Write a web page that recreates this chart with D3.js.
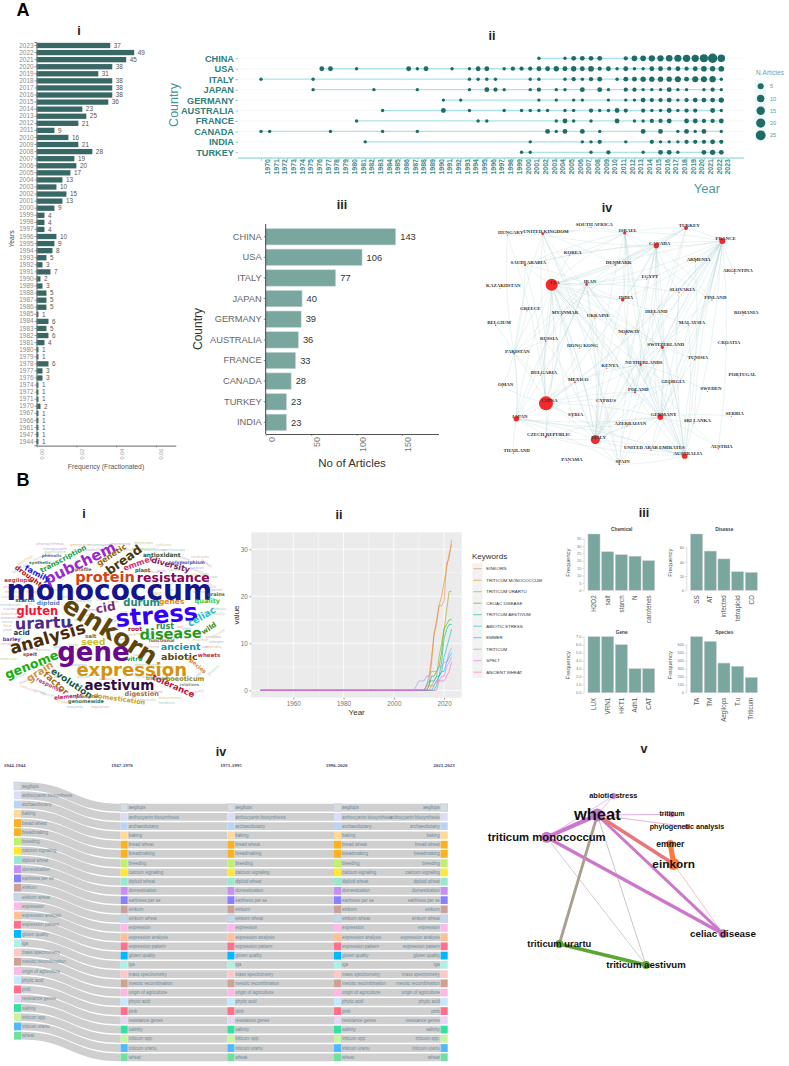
<!DOCTYPE html>
<html><head><meta charset="utf-8">
<script src="https://cdn.jsdelivr.net/npm/d3@7"></script>
<style>html,body{margin:0;padding:0;background:#fff}svg{display:block}</style>
</head><body><svg id="fig" width="789" height="1066" viewBox="0 0 789 1066"></svg>
<script>
// ---------- A-i annual production
const prodYears=[2023,2022,2021,2020,2019,2018,2017,2016,2015,2014,2013,2012,2011,2010,2009,2008,2007,2006,2005,2004,2003,2002,2001,2000,1999,1998,1997,1996,1995,1994,1993,1992,1991,1990,1989,1988,1987,1986,1985,1984,1983,1982,1981,1980,1979,1978,1977,1976,1974,1972,1971,1970,1967,1966,1961,1947,1944];
const prodCounts=[37,49,45,38,31,38,38,38,36,23,25,21,9,16,21,28,19,20,17,13,10,15,13,9,4,4,4,10,9,8,5,3,7,2,3,5,5,5,1,6,5,6,4,1,1,6,3,3,1,1,1,2,1,1,1,1,1];
const freqTicks=[0,0.02,0.04,0.06];
const totalArticles=998;
// ---------- A-ii country production over time [year, articles]
const chinaArticles=[[2002,1],[2005,1],[2006,3],[2007,3],[2008,3],[2009,3],[2012,2],[2013,5],[2014,5],[2015,7],[2016,7],[2017,8],[2018,10],[2019,11],[2020,11],[2021,15],[2022,25],[2023,12]];
const usaArticles=[[1977,3],[1978,3],[1981,1],[1987,3],[1988,1],[1989,3],[1992,1],[1994,1],[1995,3],[1996,3],[1998,1],[1999,2],[2000,2],[2001,2],[2002,3],[2003,3],[2004,4],[2005,3],[2006,4],[2007,3],[2008,5],[2009,2],[2010,3],[2011,1],[2012,3],[2013,1],[2014,1],[2015,3],[2016,3],[2017,2],[2018,3],[2019,2],[2020,3],[2021,5],[2022,4],[2023,5]];
const italyArticles=[[1970,1],[1976,1],[1994,1],[1995,1],[1996,1],[1997,1],[2001,1],[2002,1],[2005,1],[2006,2],[2007,1],[2008,2],[2009,3],[2011,1],[2012,3],[2013,3],[2014,4],[2015,4],[2016,4],[2017,4],[2018,6],[2019,3],[2020,6],[2021,6],[2022,7],[2023,1]];
const japanArticles=[[1976,1],[1983,1],[1988,1],[1994,1],[1996,3],[1997,2],[1998,1],[2001,1],[2002,2],[2004,1],[2005,1],[2007,3],[2009,3],[2010,1],[2012,2],[2013,2],[2014,1],[2015,1],[2016,1],[2017,3],[2018,1],[2019,1],[2021,1],[2022,2],[2023,1]];
const germanyArticles=[[1991,1],[1993,1],[2002,1],[2004,1],[2006,1],[2007,1],[2010,1],[2012,1],[2013,1],[2014,3],[2015,2],[2016,2],[2017,3],[2018,1],[2019,2],[2020,3],[2021,3],[2022,3],[2023,4]];
const australiaArticles=[[1984,1],[1991,3],[1994,1],[1998,1],[2000,1],[2001,1],[2002,1],[2003,1],[2005,1],[2006,1],[2008,2],[2009,1],[2010,1],[2011,3],[2012,2],[2014,2],[2015,1],[2016,1],[2017,3],[2018,1],[2019,2],[2020,2],[2022,3],[2023,1]];
const franceArticles=[[1981,1],[1995,1],[1996,1],[2004,1],[2005,3],[2006,1],[2008,1],[2011,3],[2013,1],[2014,1],[2015,2],[2016,2],[2017,3],[2019,3],[2020,3],[2021,2],[2022,2],[2023,3]];
const canadaArticles=[[1970,1],[1971,1],[1978,1],[1984,1],[1988,1],[2003,3],[2004,1],[2005,3],[2007,3],[2009,1],[2014,3],[2016,3],[2018,1],[2019,3],[2020,1],[2021,3],[2023,1]];
const indiaArticles=[[1982,1],[2001,1],[2007,1],[2008,1],[2009,2],[2012,1],[2015,2],[2016,1],[2017,1],[2018,1],[2019,2],[2020,2],[2021,2],[2022,3],[2023,2]];
const turkeyArticles=[[2000,1],[2001,1],[2008,1],[2010,2],[2014,1],[2016,3],[2017,3],[2018,1],[2021,3],[2022,4],[2023,3]];
const timelineCountries=["CHINA","USA","ITALY","JAPAN","GERMANY","AUSTRALIA","FRANCE","CANADA","INDIA","TURKEY"];
const timelineSeries=[chinaArticles,usaArticles,italyArticles,japanArticles,germanyArticles,australiaArticles,franceArticles,canadaArticles,indiaArticles,turkeyArticles];
const sizeLegend=[5,10,15,20,25];
// ---------- A-iii
const topCountries=["CHINA","USA","ITALY","JAPAN","GERMANY","AUSTRALIA","FRANCE","CANADA","TURKEY","INDIA"];
const topCounts=[143,106,77,40,39,36,33,28,23,23];
// ---------- A-iv country network (layout)
const countryNodes=[["HUNGARY",112,90,1],["UNITED KINGDOM",218,86,5],["SOUTH AFRICA",363,67,1],["ISRAEL",464,84,7],["TURKEY",648,69,12],["CANADA",559,122,20],["FRANCE",757,108,26],["KOREA",298,150,1],["SAUDI ARABIA",165,180,3],["DENMARK",436,180,2],["ARMENIA",676,170,1],["ARGENTINA",794,205,1],["USA",245,239,106],["IRAN",350,238,5],["EGYPT",530,222,1],["KAZAKHSTAN",90,250,.7],["SLOVAKIA",627,262,1],["INDIA",458,284,9],["FINLAND",726,285,1],["GREECE",171,317,.8],["MYANMAR",275,329,1],["UKRAINE",375,339,1],["IRELAND",549,327,1],["ROMANIA",819,330,.8],["BELGIUM",77,361,1.5],["MALAYSIA",656,360,1],["NORWAY",467,387,1.5],["RUSSIA",227,408,1.5],["HONG KONG",328,429,1],["SWITZERLAND",577,427,7],["CROATIA",767,419,.8],["PAKISTAN",132,446,1.5],["TUNISIA",674,464,1.5],["NETHERLANDS",512,479,3],["KENYA",410,490,.8],["BULGARIA",212,510,1],["PORTUGAL",807,516,.7],["MEXICO",315,532,2],["GEORGIA",599,536,1],["OMAN",97,546,.8],["SWEDEN",713,559,.8],["POLAND",495,562,3],["CHINA",228,595,143],["CYPRUS",398,593,.8],["SYRIA",307,636,.8],["JAPAN",139,641,22],["GERMANY",571,636,24],["SERBIA",784,634,.8],["SRI LANKA",672,654,.8],["AZERBAIJAN",471,663,.8],["CZECH REPUBLIC",227,695,3],["ITALY",376,704,60],["THAILAND",130,745,.8],["UNITED ARAB EMIRATES",543,736,1],["AUSTRIA",745,731,1],["AUSTRALIA",644,753,24],["PANAMA",296,772,.7],["SPAIN",448,778,2]];
const usaLinks=["UNITED KINGDOM","KOREA","SAUDI ARABIA","DENMARK","IRAN","EGYPT","ISRAEL","CANADA","FRANCE","INDIA","MYANMAR","UKRAINE","RUSSIA","PAKISTAN","BULGARIA","CHINA","MEXICO","JAPAN","ITALY","GERMANY","AUSTRALIA","NETHERLANDS","SWITZERLAND","TURKEY","POLAND","SPAIN","SLOVAKIA","NORWAY","MALAYSIA","TUNISIA","CZECH REPUBLIC","SYRIA","KENYA"];
const chinaLinks=["JAPAN","PAKISTAN","RUSSIA","MYANMAR","GERMANY","NETHERLANDS","ITALY","AUSTRALIA","CZECH REPUBLIC","CANADA","IRAN","FRANCE","KENYA","GEORGIA","POLAND","UKRAINE","MEXICO","BULGARIA","OMAN","SAUDI ARABIA","SYRIA","HUNGARY"];
const franceLinks=["CANADA","ISRAEL","EGYPT","SLOVAKIA","INDIA","IRELAND","NORWAY","SWITZERLAND","GERMANY","ITALY","AUSTRALIA","NETHERLANDS","MALAYSIA","SPAIN","POLAND","SRI LANKA","AUSTRIA","ARGENTINA","IRAN","SAUDI ARABIA","UNITED ARAB EMIRATES","TURKEY","FINLAND","TUNISIA","GEORGIA","AZERBAIJAN","MEXICO"];
const canadaLinks=["ISRAEL","TURKEY","IRAN","DENMARK","IRELAND","SWITZERLAND","GERMANY","AUSTRALIA","ITALY","NETHERLANDS","FINLAND","SPAIN","INDIA","SLOVAKIA","UNITED KINGDOM","SAUDI ARABIA","POLAND"];
const italyLinks=["GERMANY","JAPAN","CZECH REPUBLIC","SPAIN","AZERBAIJAN","NETHERLANDS","SWITZERLAND","IRAN","INDIA","RUSSIA","MEXICO","UKRAINE","AUSTRALIA","TURKEY","GEORGIA","UNITED ARAB EMIRATES","ISRAEL","MYANMAR","NORWAY","CYPRUS","POLAND"];
const germanyLinks=["AUSTRALIA","SPAIN","SERBIA","SRI LANKA","NETHERLANDS","SWITZERLAND","ISRAEL","IRAN","JAPAN","UNITED ARAB EMIRATES","AUSTRIA","CZECH REPUBLIC","TUNISIA","POLAND","AZERBAIJAN","MALAYSIA","IRELAND","SLOVAKIA","UNITED KINGDOM"];
const japanLinks=["SPAIN","AZERBAIJAN","CZECH REPUBLIC","PAKISTAN","MEXICO","THAILAND","AUSTRALIA","RUSSIA","MYANMAR","IRAN"];
const iranLinks=["RUSSIA","PAKISTAN","NETHERLANDS","SWITZERLAND","AUSTRALIA","SPAIN","EGYPT","SAUDI ARABIA","TURKEY","INDIA","BULGARIA","MYANMAR"];
const ukLinks=["HUNGARY","RUSSIA","AUSTRALIA","PAKISTAN","ISRAEL","SOUTH AFRICA","DENMARK","POLAND","SPAIN"];
const israelLinks=["TURKEY","SOUTH AFRICA","INDIA","AUSTRALIA","NORWAY","POLAND","KOREA","SAUDI ARABIA","NETHERLANDS","FINLAND"];
const pakistanLinks=["HUNGARY","SAUDI ARABIA","RUSSIA","BULGARIA","OMAN","GREECE","JAPAN","BELGIUM","TURKEY"];
const netherlandsLinks=["KENYA","MEXICO","POLAND","GEORGIA","AUSTRALIA","SPAIN","SWEDEN","AUSTRIA","MALAYSIA","TURKEY","FINLAND"];
const australiaLinks=["SPAIN","SWITZERLAND","SLOVAKIA","MALAYSIA","POLAND","UNITED ARAB EMIRATES","CZECH REPUBLIC","IRELAND","TUNISIA","ARMENIA"];
const networkLinkLists=[["USA",usaLinks],["CHINA",chinaLinks],["FRANCE",franceLinks],["CANADA",canadaLinks],["ITALY",italyLinks],["GERMANY",germanyLinks],["JAPAN",japanLinks],["IRAN",iranLinks],["UNITED KINGDOM",ukLinks],["ISRAEL",israelLinks],["PAKISTAN",pakistanLinks],["NETHERLANDS",netherlandsLinks],["AUSTRALIA",australiaLinks]];
// ---------- B-i word cloud: word, size, x, y, rotation, colour (layout)
const cloudWords=[["monococcum",28,328,272,0,"#14148c"],["einkorn",25,330,393,32,"#5e4508"],["gene",26,280,458,0,"#6a0a8a"],["stress",24,470,347,-5,"#3300f5"],["expression",18,395,510,0,"#d4920f"],["analysis",17,143,415,-16,"#4a2c0a"],["disease",14.5,512,402,-2,"#1f9c1f"],["urartu",16,130,370,-2,"#4b2a8c"],["protein",14.5,315,232,0,"#d2450f"],["resistance",12.5,520,233,0,"#8b0a50"],["pubchem",15,240,190,-26,"#9c27c8"],["bread",12.5,372,180,-36,"#4a3a10"],["gluten",11.5,112,335,0,"#ff1030"],["cid",12,317,323,-10,"#7a2a7a"],["durum",10,425,307,0,"#1a8a7a"],["genes",7.5,515,306,0,"#e08a10"],["quality",6.5,622,304,0,"#3cc83c"],["celiac",9.5,605,350,-30,"#20c0c8"],["ancient",9.5,542,441,0,"#2090a8"],["abiotic",9.5,538,472,0,"#5a4a10"],["rust",8,495,378,0,"#2f8f4f"],["root",6,405,386,0,"#b02020"],["seed",9,280,425,0,"#c8c020"],["genome",12.5,95,495,-22,"#10b010"],["grain",10,120,515,-32,"#c89840"],["factor",9,168,550,42,"#a87010"],["evolution",9,215,550,34,"#1a5a3a"],["aestivum",13.5,358,557,0,"#300a40"],["tolerance",8.5,520,558,24,"#c01040"],["boeoticum",6.5,555,538,0,"#8a8a20"],["digestion",6.5,425,583,0,"#a07050"],["domestication",6.5,358,597,8,"#c8a020"],["vitro",6,403,478,0,"#20a060"],["family",8,112,222,28,"#1a1ae0"],["transcription",7,190,177,-28,"#10a040"],["genetic",8,335,165,-33,"#8a6a10"],["drought",7,85,228,36,"#b02020"],["emmer",8,415,190,-20,"#d03070"],["diversity",8,512,195,15,"#7a2060"],["antioxidant",5.8,485,165,0,"#2a5a3a"],["plant",5.2,428,212,0,"#4a4a2a"],["wild",7,627,385,-35,"#3a8a20"],["acid",7,65,398,0,"#1a3a4a"],["barley",5,35,417,0,"#3a3aa0"],["aegilops",5.5,52,240,0,"#c04040"],["diploid",6,145,308,0,"#6080c0"],["starch",5.5,75,302,0,"#3a5a3a"],["wheats",5.5,627,465,0,"#c03030"],["spelt",5,90,462,0,"#7a4a3a"],["species",5.5,590,495,40,"#e08020"],["response",5.5,148,555,25,"#c04080"],["elements",5.5,205,590,-5,"#c01060"],["genomewide",5,258,605,0,"#3a6a4a"],["polymorphism",4.5,560,187,0,"#5050a0"],["grains",5,648,283,0,"#5a6a3a"],["salt",5.5,272,408,0,"#5a7a5a"],["functional",4.5,485,423,0,"#a05030"],["promoter",4.5,262,590,0,"#907030"],["triticeae",4.5,470,536,0,"#508060"],["profile",4.5,250,208,0,"#806040"],["synthetic",4.2,120,188,0,"#507050"],["relatives",4,568,553,0,"#8090a0"],["phenolic",4.2,155,168,0,"#5070b0"]];
const cloudFiller=[["transposable",165,145,0],["quantitative",165,155,0],["germplasm",240,135,0],["chromosome",300,135,0],["sequencing",360,130,0],["genotypes",430,128,0],["cultivars",490,135,0],["spectroscopy",520,150,0],["duration",590,202,0],["landraces",600,170,0],["microsatellite",270,150,0],["nutritional",125,170,-20],["seedlings",75,180,-30],["tetraploid",60,205,-30],["phylogenetic",45,260,0],["hexaploid",40,275,0],["nucleotide",32,290,0],["metabolism",30,315,0],["nucleolar",35,327,0],["bioactive",28,340,0],["carotenoids",28,352,0],["amino",22,365,0],["flour",22,378,0],["yield",22,390,0],["nitrogen",25,430,0],["molecular",25,475,0],["pathway",40,510,-20],["pathogen",55,530,-25],["mapping",80,540,-25],["molecules",85,565,20],["cereals",120,575,20],["agriculture",150,585,15],["storage",190,605,5],["enzymes",225,620,0],["regulation",300,620,0],["sensitivity",440,598,0],["biosynthesis",510,592,0],["hordeum",500,608,0],["oxidative",560,575,25],["farming",590,575,-15],["gliadin",600,520,-40],["glutenin",640,510,-40],["peptides",640,440,0],["allergen",648,425,0],["analyses",640,410,0],["nutrient",655,400,-30],["toxicity",655,340,0],["biomass",655,325,0],["kernel",650,270,0],["soil",640,260,0],["marker",620,245,40],["crop",640,230,0],["silencing",595,225,0],["phenotype",600,215,20],["growth",620,190,40],["temperature",430,145,0],["epigenetic",380,150,0],["transcriptome",460,150,0],["microbiome",540,170,20],["protease",455,215,0],["lectin",485,212,0],["cadmium",530,210,0],["heat",570,260,0],["salinity",600,275,0],["rna",510,270,0],["dna",470,285,0],["traits",200,290,0],["flowering",250,303,0],["zinc",180,290,0],["iron",300,300,0],["cell",350,350,0],["rice",370,335,0],["maize",340,305,0],["proteins",275,330,0],["food",265,345,0],["fiber",215,345,0],["dough",240,358,0],["allele",345,362,0],["loci",355,380,0],["grainyield",380,405,0],["tissue",360,415,0],["assay",220,433,0],["sugar",240,445,0],["lipid",170,440,0],["breeding",90,445,0],["markers",130,450,0],["archaeology",490,500,0],["rye",590,445,0],["oat",615,440,0],["cultivated",450,440,0],["nuclear",420,465,0],["domesticated",440,495,0],["ethylene",600,420,0],["stem",560,385,0],["leaf",540,380,0],["metabolomic",440,400,0],["immune",380,445,0],["cytokinin",430,530,0],["hybrid",470,575,0],["ancestor",320,535,0],["barley",180,530,0],["glycine",250,530,0],["pasta",470,278,0],["wheatgrass",230,495,0],["drought",100,275,0],["mutant",180,270,0],["ptc",90,312,0],["lines",200,320,0],["photosynthesis",150,130,0]];
const cloudFillerColors=["#c3aede","#a9d4b5","#dfc092","#9cc3e0","#e2a8bd","#b9d596","#d6cc92","#a4cfcf","#cfa8d8","#e8b9a6"];
// ---------- B-ii keyword growth
const keywordNames=["EINKORN","TRITICUM MONOCOCCUM","TRITICUM URARTU","CELIAC DISEASE","TRITICUM AESTIVUM","ABIOTIC STRESS","EMMER","TRITICUM","SPELT","ANCIENT WHEAT"];
const keywordYears=[1947,2008,2009,2010,2011,2012,2013,2014,2015,2016,2017,2018,2019,2020,2021,2022,2023];
const kwEinkorn=[0,0,0,0,0,0,1,3,7,12,14,18,18,19,27,28,32];
const kwMonococcum=[0,0,0,0,0,0,0,1,6,12,15,18,20,23,26,29,31];
const kwUrartu=[0,0,0,0,0,0,0,0,1,2,3,7,10,13,17,21,21];
const kwCeliac=[0,0,0,0,0,0,0,1,3,3,4,5,8,13,14,15,15];
const kwAestivum=[0,0,0,0,0,0,0,0,0,0,1,3,6,11,13,14,14];
const kwAbiotic=[0,0,0,0,0,0,0,0,0,1,2,3,4,7,9,11,13];
const kwEmmer=[0,0,0,0,0,0,1,2,2,2,3,3,4,4,6,7,8];
const kwTriticum=[0,0,1,2,2,2,3,3,4,4,4,5,5,6,6,8,9];
const kwSpelt=[0,0,0,0,0,0,1,1,1,1,2,2,3,3,5,6,7];
const kwAncient=[0,0,0,0,0,0,0,0,0,0,0,2,2,2,3,4,6];
const keywordSeries=[kwEinkorn,kwMonococcum,kwUrartu,kwCeliac,kwAestivum,kwAbiotic,kwEmmer,kwTriticum,kwSpelt,kwAncient];
const keywordColors=["#F8766D","#D89000","#A3A500","#39B600","#00BF7D","#00BFC4","#00B0F6","#9590FF","#E76BF3","#FF62BC"];
// ---------- B-iii entity bars
const chemicalNames=["H2O2","salt","starch","N","carotenes"],chemicalCounts=[38,26,24,23,20],chemicalTicks=[0,5,10,15,20,25,30,35];
const diseaseNames=["SS","AT","infected","tetraploid","CD"],diseaseCounts=[79,55,44,26,25],diseaseTicks=[0,20,40,60];
const geneNames=["LUX","VRN1","HKT1","Adh1","CAT"],geneCounts=[7,7,6,3,3],geneTicks=[0,1,2,3,4,5,6,7];
const speciesNames=["TA","TM","Aegilops","T.u","Triticum"],speciesCounts=[700,640,370,330,190],speciesTicks=[0,100,200,300,400,500,600];
// ---------- B-iv thematic evolution
const periods=["1944-1944","1947-1970","1971-1995","1996-2020","2021-2023"];
const themes=["aegilops","anthocyanin biosynthesis","archaeobotany","baking","bread wheat","breadmaking","breeding","calcium signaling","diploid wheat","domestication","earliness per se","einkorn","einkorn wheat","expression","expression analysis","expression pattern","gluten quality","iga","mass spectrometry","meiotic recombination","origin of agriculture","phytic acid","pinb","resistance genes","salinity","triticum spp.","triticum urartu","wheat"];
const themeColors=["#d8dcdf","#dcdcf8","#bcd4f4","#ffd99a","#ffb020","#ffb020","#c0f070","#ffe830","#98e8d0","#c490f8","#8a80ff","#cca098","#c8d6e4","#ffb8e8","#ffc098","#ff7090","#00b8ff","#b0f0e4","#ffc8c8","#d0a090","#ffb8e4","#c4e8ff","#ff7088","#e8d4f4","#38e0a0","#c8f4a0","#50b8ff","#70e0a0"];
// ---------- B-v co-occurrence network (layout)
const coNodes=[["wheat",382,135,6.5,"#c878c8",16.5],["abiotic stress",430,78,3,"#c878c8",7.5],["triticum",606,133,3,"#c878c8",6.8],["phylogenetic analysis",651,170,2.5,"#c878c8",7.2],["triticum monococcum",230,202,5.5,"#c878c8",11.3],["emmer",601,222,4,"#ff7a3a",8.6],["einkorn",611,282,6,"#ff7a3a",11.8],["celiac disease",759,491,4.5,"#c878c8",9.8],["triticum urartu",268,522,4,"#5aa832",9.4],["triticum aestivum",528,585,4,"#5aa832",9.6]];
const coEdges=[["wheat","triticum monococcum",4.2,"#cc77cc"],["wheat","celiac disease",3,"#cc77cc"],["triticum monococcum","celiac disease",3.4,"#cc77cc"],["wheat","einkorn",3.6,"#e87878"],["emmer","einkorn",5,"#ff7a3a"],["einkorn","celiac disease",.5,"#f08080"],["wheat","triticum urartu",2.8,"#a89f8f"],["triticum urartu","triticum aestivum",3.6,"#5aa832"],["triticum monococcum","triticum aestivum",.5,"#a89f8f"],["wheat","triticum aestivum",.6,"#a89f8f"],["wheat","abiotic stress",.6,"#dd99dd"],["triticum monococcum","abiotic stress",.6,"#dd99dd"],["wheat","triticum",.8,"#dd99dd"],["wheat","phylogenetic analysis",.8,"#dd99dd"]];

// ---------------------------------------------------------------
const svg=d3.select("#fig");
const SANS="'Liberation Sans',Arial,sans-serif",SERIF="'Liberation Serif',serif";
function label(t,x,y,o={}){
  const e=svg.append("text").text(t).attr("x",x).attr("y",y).attr("font-family",o.family||SANS)
    .attr("font-size",o.size||10).attr("fill",o.fill||"#000").attr("text-anchor",o.anchor||"middle")
    .attr("font-weight",o.weight||"normal").attr("dy",o.dy===undefined?".35em":o.dy);
  if(o.rot!==undefined)e.attr("transform",`rotate(${o.rot},${x},${y})`);
  return e;
}
[["A",23,10],["B",23,480]].forEach(d=>label(d[0],d[1],d[2],{size:18,weight:"bold"}));
[["i",79,31],["ii",492,36],["iii",342,205],["iv",607,208],["i",84,514],["ii",339,515],["iii",644,513],["iv",221,752],["v",644,749]]
  .forEach(d=>label(d[0],d[1],d[2],{size:12.5,weight:"bold",fill:"#222"}));

// A-i ------------------------------------------------------------
(function(){
  const y=d3.scaleBand().domain(prodYears).range([41.96,445.2]).paddingInner(.25).paddingOuter(.125);
  const x=d3.scaleLinear().domain([0,.07]).range([36.5,175.8]);
  const g=svg.append("g");
  g.selectAll("rect").data(prodYears).join("rect").attr("x",x(0)).attr("y",d=>y(d)).attr("height",y.bandwidth())
    .attr("width",(d,i)=>x(prodCounts[i]/totalArticles)-x(0)).attr("fill","#386866");
  g.selectAll("text.v").data(prodYears).join("text").attr("class","v").text((d,i)=>prodCounts[i])
    .attr("x",(d,i)=>x(prodCounts[i]/totalArticles)+3.5).attr("y",d=>y(d)+y.bandwidth()/2).attr("dy",".35em")
    .attr("font-family",SANS).attr("font-size",6.4).attr("fill","#555");
  const ax=svg.append("g").attr("transform","translate(36.5,0)").call(d3.axisLeft(y).tickSize(2).tickPadding(1));
  ax.selectAll("text").attr("font-family",SANS).attr("font-size",6.4).attr("fill","#8a8a8a");
  ax.selectAll("line").attr("stroke","#555").attr("stroke-width",.6);
  ax.select(".domain").attr("stroke","#777").attr("stroke-width",1);
  const bx=svg.append("g").attr("transform","translate(0,445.6)").call(d3.axisBottom(x).tickValues(freqTicks).tickFormat(d3.format(".2f")).tickSize(2).tickSizeOuter(0));
  bx.selectAll("text").attr("font-family",SANS).attr("font-size",5.6).attr("fill","#999").attr("text-anchor","end").attr("dx",0).attr("dy",0)
    .attr("transform","translate(2,3) rotate(-90)");
  bx.selectAll("line").attr("stroke","#777").attr("stroke-width",.6);
  bx.select(".domain").attr("stroke","#666").attr("stroke-width",1);
  label("Frequency (Fractionated)",106,467,{size:6.8,fill:"#555"});
  label("Years",12,239,{size:6.8,fill:"#444",rot:-90});
})();

// A-ii -----------------------------------------------------------
(function(){
  const x=d3.scaleLinear().domain([1970,2023]).range([261,721.3]);
  const y=d3.scalePoint().domain(timelineCountries).range([58.3,152.3]);
  const r=d3.scalePow().exponent(.3).domain([1,25]).range([1.7,4.7]);
  const g=svg.append("g");
  timelineCountries.forEach((c,i)=>{
    g.append("line").attr("x1",238).attr("x2",744).attr("y1",y(c)).attr("y2",y(c)).attr("stroke","#f3f7f7").attr("stroke-width",.8);
    const s=timelineSeries[i];
    g.append("line").attr("x1",x(s[0][0])).attr("x2",x(s[s.length-1][0])).attr("y1",y(c)).attr("y2",y(c)).attr("stroke","#aee3e3").attr("stroke-width",1.3);
    g.selectAll(null).data(s).join("circle").attr("cx",d=>x(d[0])).attr("cy",y(c)).attr("r",d=>r(d[1])).attr("fill","#1f6b68");
  });
  const ax=svg.append("g").attr("transform","translate(238,0)").call(d3.axisLeft(y).tickSize(2.5).tickPadding(1.5));
  ax.select(".domain").remove();
  ax.selectAll("text").attr("font-family",SANS).attr("font-weight","bold").attr("font-size",9.2).attr("fill","#2f8080");
  ax.selectAll("line").attr("stroke","#4a8f8f").attr("stroke-width",.5);
  const bx=svg.append("g").attr("transform","translate(0,158)").call(d3.axisBottom(x).tickValues(d3.range(1970,2024)).tickFormat(d3.format("d")).tickSize(3).tickSizeOuter(0));
  bx.select(".domain").attr("d","M238,0H744").attr("stroke","#73cfcf").attr("stroke-width",1);
  bx.selectAll("line").attr("stroke","#6ababa").attr("stroke-width",.5);
  bx.selectAll("text").attr("font-family",SANS).attr("font-size",7).attr("font-weight","bold").attr("fill","#3f8d8d").attr("text-anchor","end").attr("dy",0)
    .attr("transform","translate(2.5,1) rotate(-90)");
  label("Year",707,188,{size:13,fill:"#4c9c9c"});
  label("Country",174,105,{size:12.5,fill:"#3f9696",rot:-90});
  label("N.Articles",770,73,{size:6.5,fill:"#6f9f9f"});
  const ly=d3.scalePoint().domain(sizeLegend).range([86.3,135.3]);
  svg.append("rect").attr("x",755).attr("y",80).attr("width",11).attr("height",62).attr("fill","#eefafa");
  sizeLegend.forEach(v=>{
    svg.append("circle").attr("cx",760.7).attr("cy",ly(v)).attr("r",r(v)+.2).attr("fill","#1f6b68");
    label(v,770,ly(v),{size:5.6,fill:"#5d9a9a",anchor:"start"});
  });
})();

// A-iii ----------------------------------------------------------
(function(){
  const y=d3.scaleBand().domain(topCountries).range([226.4,432.7]).paddingInner(.2).paddingOuter(.1);
  const x=d3.scaleLinear().domain([0,190]).range([265.7,438.5]);
  svg.append("g").selectAll("rect").data(topCountries).join("rect").attr("x",x(0)).attr("y",d=>y(d)).attr("height",y.bandwidth())
    .attr("width",(d,i)=>x(topCounts[i])-x(0)).attr("fill","#7aa6a0").attr("stroke","#cfe0dd").attr("stroke-width",.6);
  svg.append("g").selectAll("text").data(topCountries).join("text").text((d,i)=>topCounts[i])
    .attr("x",(d,i)=>x(topCounts[i])+4.5).attr("y",d=>y(d)+y.bandwidth()/2).attr("dy",".35em")
    .attr("font-family",SANS).attr("font-size",9.3).attr("fill","#333");
  const ax=svg.append("g").attr("transform","translate(265.7,0)").call(d3.axisLeft(y).tickSize(2).tickPadding(2));
  ax.select(".domain").attr("d","M0,224V434").attr("stroke","#444");
  ax.selectAll("line").attr("stroke","#444").attr("stroke-width",.6);
  ax.selectAll("text").attr("font-family",SANS).attr("font-size",9.3).attr("fill","#666");
  const bx=svg.append("g").attr("transform","translate(0,434)").call(d3.axisBottom(x).tickValues([0,50,100,150]).tickSize(2).tickSizeOuter(0));
  bx.select(".domain").attr("stroke","#555");
  bx.selectAll("line").attr("stroke","#555").attr("stroke-width",.6);
  bx.selectAll("text").attr("font-family",SANS).attr("font-size",9).attr("fill","#777").attr("text-anchor","end").attr("dy",0)
    .attr("transform","translate(3.5,3) rotate(-90)");
  label("No of Articles",352,463,{size:11.5,fill:"#333"});
  label("Country",198,329,{size:12,fill:"#333",rot:-90});
})();

// A-iv -----------------------------------------------------------
(function(){
  const x=d3.scaleLinear().domain([0,957]).range([470,789]);
  const y=d3.scaleLinear().domain([0,810]).range([205,475]);
  const r=d3.scaleSqrt().domain([0,143]).range([0,7]);
  const byName=new Map(countryNodes.map(d=>[d[0],d]));
  const g=svg.append("g");
  networkLinkLists.forEach(([src,list],li)=>list.forEach((t,ti)=>{
    const a=byName.get(src),b=byName.get(t);
    if(!a||!b)return;
    const ax=x(a[1]),ay=y(a[2]),bx=x(b[1]),by=y(b[2]),s=(ti%2?1:-1)*.06;
    const p=d3.path();p.moveTo(ax,ay);p.quadraticCurveTo((ax+bx)/2-(by-ay)*s,(ay+by)/2+(bx-ax)*s,bx,by);
    g.append("path").attr("d",p.toString()).attr("fill","none").attr("stroke","#a9cdcd").attr("stroke-opacity",.55).attr("stroke-width",.45);
  }));
  g.selectAll("circle").data(countryNodes).join("circle").attr("cx",d=>x(d[1])).attr("cy",d=>y(d[2])).attr("r",d=>r(d[3])).attr("fill","#f02020").attr("fill-opacity",.95);
  g.selectAll("text").data(countryNodes).join("text").text(d=>d[0]).attr("x",d=>x(d[1])+3.3).attr("y",d=>y(d[2])-2.7).attr("dy",".35em")
    .attr("text-anchor","middle").attr("font-family",SERIF).attr("font-weight","bold").attr("font-size",4.9).attr("fill","#333");
})();

// B-i ------------------------------------------------------------
(function(){
  const x=d3.scaleLinear().domain([0,720]).range([0,240]);
  const y=d3.scaleLinear().domain([0,720]).range([500,740]);
  const g=svg.append("g").attr("font-family","'DejaVu Sans',sans-serif").attr("text-anchor","middle");
  g.selectAll("text.f").data(cloudFiller).join("text").attr("class","f").text(d=>d[0]).attr("font-size",3.6).attr("dy",".35em")
    .attr("fill",(d,i)=>cloudFillerColors[i%cloudFillerColors.length])
    .attr("transform",d=>`translate(${x(d[1])},${y(d[2])}) rotate(${d[3]})`);
  g.selectAll("text.w").data(cloudWords).join("text").attr("class","w").text(d=>d[0]).attr("font-size",d=>d[1]).attr("font-weight","bold").attr("dy",".32em")
    .attr("fill",d=>d[5]).attr("transform",d=>`translate(${x(d[2])},${y(d[3])}) rotate(${d[4]})`);
})();

// B-ii -----------------------------------------------------------
(function(){
  const x=d3.scaleLinear().domain([1943.3,2027]).range([251.3,461.7]);
  const y=d3.scaleLinear().domain([-1.57,33.6]).range([697.7,532.3]);
  svg.append("rect").attr("x",251.3).attr("y",532.3).attr("width",210.4).attr("height",165.4).attr("fill","#ebebeb");
  const g=svg.append("g");
  [1950,1970,1990,2010].forEach(v=>g.append("line").attr("x1",x(v)).attr("x2",x(v)).attr("y1",532.3).attr("y2",697.7).attr("stroke","#fff").attr("stroke-width",.4));
  [5,15,25].forEach(v=>g.append("line").attr("y1",y(v)).attr("y2",y(v)).attr("x1",251.3).attr("x2",461.7).attr("stroke","#fff").attr("stroke-width",.4));
  [1960,1980,2000,2020].forEach(v=>g.append("line").attr("x1",x(v)).attr("x2",x(v)).attr("y1",532.3).attr("y2",697.7).attr("stroke","#fff").attr("stroke-width",.8));
  [0,10,20,30].forEach(v=>g.append("line").attr("y1",y(v)).attr("y2",y(v)).attr("x1",251.3).attr("x2",461.7).attr("stroke","#fff").attr("stroke-width",.8));
  const line=d3.line().x((d,i)=>x(keywordYears[i])).y(d=>y(d));
  keywordSeries.forEach((s,i)=>g.append("path").attr("d",line(s)).attr("fill","none").attr("stroke",keywordColors[i]).attr("stroke-opacity",.75).attr("stroke-width",.8));
  const bx=svg.append("g").attr("transform","translate(0,697.7)").call(d3.axisBottom(x).tickValues([1960,1980,2000,2020]).tickFormat(d3.format("d")).tickSize(2).tickPadding(1.5));
  bx.select(".domain").remove();bx.selectAll("line").attr("stroke","#444").attr("stroke-width",.5);
  bx.selectAll("text").attr("font-family",SANS).attr("font-size",6.4).attr("fill","#777");
  const ax=svg.append("g").attr("transform","translate(251.3,0)").call(d3.axisLeft(y).tickValues([0,10,20,30]).tickSize(2).tickPadding(1.5));
  ax.select(".domain").remove();ax.selectAll("line").attr("stroke","#444").attr("stroke-width",.5);
  ax.selectAll("text").attr("font-family",SANS).attr("font-size",6.4).attr("fill","#777");
  label("Year",356.7,712,{size:8,fill:"#333"});
  label("value",236.7,615,{size:8,fill:"#333",rot:-90});
  label("Keywords",472,556,{size:8,fill:"#333",anchor:"start"});
  const ky=d3.scalePoint().domain(keywordNames).range([568.7,672.2]);
  svg.append("rect").attr("x",472.3).attr("y",562.9).attr("width",10.4).attr("height",115).attr("fill","#f2f2f2");
  keywordNames.forEach((k,i)=>{
    svg.append("line").attr("x1",473.3).attr("x2",481.7).attr("y1",ky(k)).attr("y2",ky(k)).attr("stroke",keywordColors[i]).attr("stroke-opacity",.75).attr("stroke-width",.8);
    label(k,486.3,ky(k),{size:4.4,fill:"#333",anchor:"start"});
  });
})();

// B-iii ----------------------------------------------------------
(function(){
  const panels=[
    ["Chemical",chemicalNames,chemicalCounts,chemicalTicks,587.7,590.3,534,38],
    ["Disease",diseaseNames,diseaseCounts,diseaseTicks,690.3,590.3,534,79],
    ["Gene",geneNames,geneCounts,geneTicks,587.7,692.7,636.7,7],
    ["Species",speciesNames,speciesCounts,speciesTicks,690.3,692.7,636.7,700]];
  panels.forEach(([title,names,vals,ticks,x0,y0,yt,mx])=>{
    const x=d3.scaleBand().domain(names).range([x0,x0+67.3]).paddingInner(.12).paddingOuter(.02);
    const y=d3.scaleLinear().domain([0,mx]).range([y0,yt]);
    svg.append("g").selectAll("rect").data(names).join("rect").attr("x",d=>x(d)).attr("y",(d,i)=>y(vals[i])).attr("width",x.bandwidth())
      .attr("height",(d,i)=>y0-y(vals[i])).attr("fill","#7aa6a0").attr("stroke","#c9c9c9").attr("stroke-width",.5);
    const ax=svg.append("g").attr("transform",`translate(${x0-3.5},0)`).call(d3.axisLeft(y).tickValues(ticks).tickSize(1.8).tickPadding(1));
    ax.select(".domain").attr("d",`M0,${y(ticks[0])}V${y(ticks[ticks.length-1])}`).attr("stroke","#aaa").attr("stroke-width",.4);
    ax.selectAll("line").attr("stroke","#aaa").attr("stroke-width",.4);
    ax.selectAll("text").attr("font-family",SANS).attr("font-size",3.9).attr("fill","#777");
    names.forEach(n=>label(n,x(n)+x.bandwidth()/2,y0+5,{size:6.3,fill:"#555",anchor:"end",rot:-90}));
    label(title,x0+34,yt-4.6,{size:4.8,weight:"bold",fill:"#444"});
    label("Frequency",x0-20,(y0+yt)/2+.5,{size:6,fill:"#555",rot:-90});
  });
})();

// B-iv -----------------------------------------------------------
(function(){
  const colX=d3.scalePoint().domain(periods).range([14,440.7]);
  const nodeW=7;
  const y0=d3.scalePoint().domain(themes).range([786,1035.7]);
  const y1=d3.scalePoint().domain(themes).range([807.7,1057.3]);
  const yOf=(pi,t)=>pi===0?y0(t):y1(t);
  const link=d3.linkHorizontal();
  const g=svg.append("g");
  periods.slice(0,-1).forEach((p,pi)=>themes.forEach(t=>{
    g.append("path").attr("d",link({source:[colX(p)+nodeW,yOf(pi,t)],target:[colX(periods[pi+1]),yOf(pi+1,t)]}))
      .attr("fill","none").attr("stroke","#cfcfcf").attr("stroke-width",7.8);
  }));
  periods.forEach((p,pi)=>{
    themes.forEach((t,ti)=>{
      const pale=(t==="aegilops"||t==="einkorn wheat");
      svg.append("rect").attr("x",colX(p)).attr("y",yOf(pi,t)-3.9).attr("width",nodeW).attr("height",7.8).attr("fill",themeColors[ti])
        .attr("stroke",pale?"#b8d0e8":"none").attr("stroke-width",.7);
      const last=pi===periods.length-1;
      label(t,last?colX(p)-1:colX(p)+nodeW+1,yOf(pi,t),{size:4.5,fill:"#6d8c9c",anchor:last?"end":"start"});
    });
    label(p,[14.7,122,231,336.7,444][pi],765.3,{size:5,weight:"bold",family:SERIF,fill:"#3c3c66"});
  });
})();

// B-v ------------------------------------------------------------
(function(){
  const x=d3.scaleLinear().domain([0,957]).range([470,789]);
  const y=d3.scaleLinear().domain([0,780]).range([770,1030]);
  const n=new Map(coNodes.map(d=>[d[0],d]));
  const g=svg.append("g");
  coEdges.forEach(e=>{const a=n.get(e[0]),b=n.get(e[1]);
    g.append("line").attr("x1",x(a[1])).attr("y1",y(a[2])).attr("x2",x(b[1])).attr("y2",y(b[2])).attr("stroke",e[3]).attr("stroke-width",e[2]);});
  g.selectAll("circle").data(coNodes).join("circle").attr("cx",d=>x(d[1])).attr("cy",d=>y(d[2])).attr("r",d=>d[3]).attr("fill",d=>d[4]);
  g.selectAll("text").data(coNodes).join("text").text(d=>d[0]).attr("x",d=>x(d[1])).attr("y",d=>y(d[2])).attr("dy",".3em").attr("text-anchor","middle")
    .attr("font-family",SANS).attr("font-weight","bold").attr("font-size",d=>d[5]).attr("fill","#111");
})();
</script></body></html>
